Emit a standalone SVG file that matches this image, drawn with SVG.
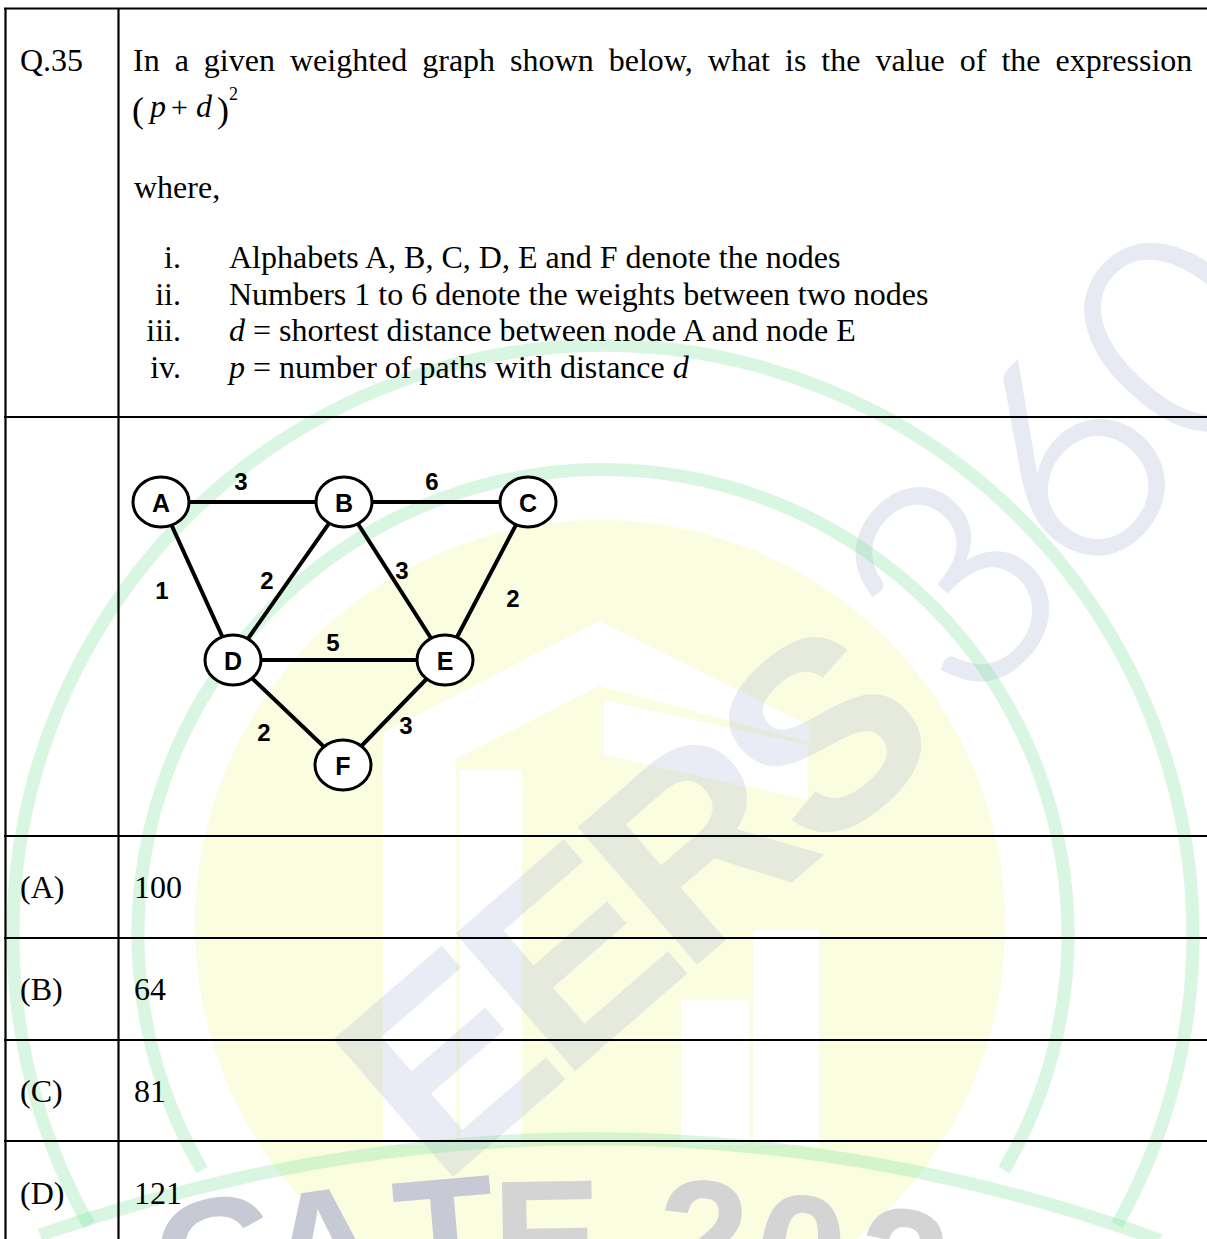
<svg xmlns="http://www.w3.org/2000/svg" width="1207" height="1239" viewBox="0 0 1207 1239">
<style>
.q{font-family:"Liberation Serif","Times New Roman",serif;font-size:32px;fill:#000}
.it{font-style:italic}
.nl{font-family:"Liberation Sans",Arial,sans-serif;font-weight:bold;font-size:25px;fill:#000;text-anchor:middle;dominant-baseline:central}
.wl{font-family:"Liberation Sans",Arial,sans-serif;font-weight:bold;font-size:24px;fill:#000;text-anchor:middle;dominant-baseline:central}
.node{fill:#fff;stroke:#000;stroke-width:3}
.edge{stroke:#000;stroke-width:4;stroke-linecap:round}
.grid{stroke:#000;stroke-width:2.2}
.ring{fill:none;stroke:#7fe0a0;stroke-opacity:0.3;stroke-width:13}
.wm{font-family:"Liberation Sans",Arial,sans-serif;font-weight:bold}
</style>
<rect width="1207" height="1239" fill="#fff"/>
<g id="watermark">
  <circle cx="600" cy="925" r="405" fill="#fafddf"/>
  <path d="M383 733 L599 621 L810 726 L810 742 L599 686 L456 759 L456 1145 L383 1145 Z" fill="#fff"/>
  <rect x="460" y="770" width="62" height="375" fill="#fff"/>
  <path d="M604 700 L808 745 L808 800 L604 755 Z" fill="#fff"/>
  <rect x="681" y="1000" width="68" height="145" fill="#fff"/>
  <rect x="753" y="930" width="66" height="215" fill="#fff"/>
  <text class="wm" transform="translate(627,900) rotate(-41)" font-size="265" letter-spacing="-15" fill="#b5bfdc" fill-opacity="0.3" text-anchor="middle" dy="95">EERS</text>
  <text transform="translate(1068,462) rotate(-47)" font-family="Lato, Open Sans, sans-serif" font-weight="300" font-size="290" fill="#e7eaf3" stroke="#e7eaf3" stroke-width="4" text-anchor="middle" dy="100">360</text>
  <path class="ring" d="M89 1225 A590 590 0 1 1 1117 1225"/>
  <path class="ring" d="M202 1170 A465 465 0 1 1 1004 1170"/>
  <path class="ring" d="M40 1235 Q600 1040 1160 1240"/>
  <text class="wm" font-size="165" x="168 272 400 493 600 654 749 847 957" y="1325 1312 1297 1296 1293 1293 1305 1316 1339" rotate="-12 -8 -5 -1 0 3 6 9 14"><tspan fill="#c7cad4">GAT</tspan><tspan fill="#d4d4d4">E 2024</tspan></text>
</g>
<g id="table">
  <line class="grid" x1="4" y1="8.5" x2="1207" y2="8.5"/>
  <line class="grid" x1="5.5" y1="8" x2="5.5" y2="1239"/>
  <line class="grid" x1="118.5" y1="8" x2="118.5" y2="1239"/>
  <line class="grid" x1="4" y1="417" x2="1207" y2="417"/>
  <line class="grid" x1="4" y1="836" x2="1207" y2="836"/>
  <line class="grid" x1="4" y1="938" x2="1207" y2="938"/>
  <line class="grid" x1="4" y1="1040" x2="1207" y2="1040"/>
  <line class="grid" x1="4" y1="1141" x2="1207" y2="1141"/>
</g>
<g id="question">
  <text class="q" x="20" y="71">Q.35</text>
  <text class="q" x="133" y="71" word-spacing="7">In a given weighted graph shown below, what is the value of the expression</text>
  <text class="q"><tspan x="132" y="122" font-size="36">(</tspan><tspan class="it" x="150" y="117">p</tspan><tspan x="171" y="117" font-size="30">+</tspan><tspan class="it" x="196" y="117">d</tspan><tspan x="217" y="122" font-size="36">)</tspan><tspan x="229" y="100" font-size="18">2</tspan></text>
  <text class="q" x="134" y="198">where,</text>
  <g text-anchor="end">
    <text class="q" x="181" y="268">i.</text>
    <text class="q" x="181" y="305">ii.</text>
    <text class="q" x="181" y="341">iii.</text>
    <text class="q" x="181" y="378">iv.</text>
  </g>
  <text class="q" x="229" y="268">Alphabets A, B, C, D, E and F denote the nodes</text>
  <text class="q" x="229" y="305">Numbers 1 to 6 denote the weights between two nodes</text>
  <text class="q" x="229" y="341"><tspan class="it">d</tspan> = shortest distance between node A and node E</text>
  <text class="q" x="229" y="378"><tspan class="it">p</tspan> = number of paths with distance <tspan class="it">d</tspan></text>
</g>
<g id="connectors">
  <line class="edge" x1="161" y1="502" x2="344" y2="502"/>
  <line class="edge" x1="344" y1="502" x2="528" y2="502"/>
  <line class="edge" x1="161" y1="502" x2="233" y2="660"/>
  <line class="edge" x1="344" y1="502" x2="233" y2="660"/>
  <line class="edge" x1="344" y1="502" x2="445" y2="660"/>
  <line class="edge" x1="528" y1="502" x2="445" y2="660"/>
  <line class="edge" x1="233" y1="660" x2="445" y2="660"/>
  <line class="edge" x1="233" y1="660" x2="343" y2="765"/>
  <line class="edge" x1="445" y1="660" x2="343" y2="765"/>
  <text class="wl" x="241" y="481">3</text>
  <text class="wl" x="432" y="481">6</text>
  <text class="wl" x="162" y="590">1</text>
  <text class="wl" x="267" y="580">2</text>
  <text class="wl" x="402" y="570">3</text>
  <text class="wl" x="513" y="598">2</text>
  <text class="wl" x="333" y="642">5</text>
  <text class="wl" x="264" y="732">2</text>
  <text class="wl" x="406" y="725">3</text>
</g>
<g id="node-A"><ellipse class="node" cx="161" cy="502" rx="28" ry="25"/><text class="nl" x="161" y="503">A</text></g>
<g id="node-B"><ellipse class="node" cx="344" cy="502" rx="28" ry="25"/><text class="nl" x="344" y="503">B</text></g>
<g id="node-C"><ellipse class="node" cx="528" cy="502" rx="28" ry="25"/><text class="nl" x="528" y="503">C</text></g>
<g id="node-D"><ellipse class="node" cx="233" cy="660" rx="28" ry="25"/><text class="nl" x="233" y="661">D</text></g>
<g id="node-E"><ellipse class="node" cx="445" cy="660" rx="28" ry="25"/><text class="nl" x="445" y="661">E</text></g>
<g id="node-F"><ellipse class="node" cx="343" cy="765" rx="28" ry="25"/><text class="nl" x="343" y="766">F</text></g>
<g id="options">
  <text class="q" x="20" y="898">(A)</text><text class="q" x="134" y="898">100</text>
  <text class="q" x="20" y="1000">(B)</text><text class="q" x="134" y="1000">64</text>
  <text class="q" x="20" y="1102">(C)</text><text class="q" x="134" y="1102">81</text>
  <text class="q" x="20" y="1204">(D)</text><text class="q" x="134" y="1204">121</text>
</g>
</svg>
